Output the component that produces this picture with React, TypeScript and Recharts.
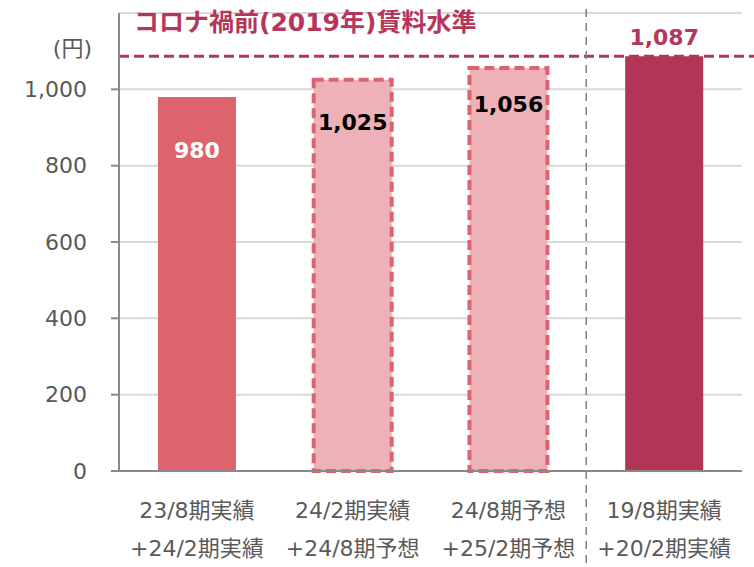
import React from "react";
import {
  BarChart,
  Bar,
  Cell,
  XAxis,
  YAxis,
  CartesianGrid,
  ReferenceLine,
  LabelList,
} from "recharts";

// Data
const CATEGORIES = [
  ["23/8期実績", "+24/2期実績"],
  ["24/2期実績", "+24/8期予想"],
  ["24/8期予想", "+25/2期予想"],
  ["19/8期実績", "+20/2期実績"],
];
const RENT = [980, 1025, 1056, 1087];
const PRE_COVID_LEVEL = 1087;
const Y_TICKS = [0, 200, 400, 600, 800, 1000];
const TITLE = "コロナ禍前(2019年)賃料水準";
const UNIT = "(円)";

const data = CATEGORIES.map((lines, i) => ({
  name: lines.join("\n"),
  rent: RENT[i],
}));

// Styling
const FONT = "'DejaVu Sans', 'Noto Sans CJK JP', sans-serif";
const AXIS_GRAY = "#898989";
const TEXT_GRAY = "#595959";
const ACCENT = "#b5365a";
const BAR_FILLS = ["#dd646e", "#eeb1b7", "#eeb1b7", "#b23557"];
const BAR_DASHED = [false, true, true, false];
const LABEL_COLORS = ["#ffffff", "#000000", "#000000", ACCENT];
// distance of the label centre from the bar top (negative = above)
const LABEL_OFFSETS = [53, 42, 36, -19];

const formatNum = (v: number) => v.toLocaleString("en-US");

const XTick = ({ x, y, payload }: any) => {
  const lines = String(payload.value).split("\n");
  return (
    <text x={x} y={y} textAnchor="middle" fill={TEXT_GRAY} fontSize={22} fontFamily={FONT}>
      {lines.map((l, i) => (
        <tspan key={i} x={x} dy={i === 0 ? 39 : 38}>
          {l}
        </tspan>
      ))}
    </text>
  );
};

const BarValue = ({ x, y, width, value, index }: any) => (
  <text
    x={x + width / 2}
    y={y + LABEL_OFFSETS[index]}
    dy="0.36em"
    textAnchor="middle"
    fill={LABEL_COLORS[index]}
    fontSize={22}
    fontWeight="bold"
    fontFamily={FONT}
  >
    {formatNum(value)}
  </text>
);

const TitleLabel = ({ viewBox }: any) => (
  <text
    x={viewBox.x + 15}
    y={viewBox.y - 34}
    dy="0.36em"
    fill={ACCENT}
    fontSize={25}
    fontWeight="bold"
    fontFamily={FONT}
  >
    {TITLE}
  </text>
);

const UnitLabel = ({ viewBox }: any) => (
  <text
    x={viewBox.x + viewBox.width - 27}
    y={viewBox.y + 35}
    dy="0.36em"
    textAnchor="end"
    fill={TEXT_GRAY}
    fontSize={22}
    fontFamily={FONT}
  >
    {UNIT}
  </text>
);

// the level line runs on past the plot to the page edge
const LevelLine = (p: any) => (
  <line
    x1={p.x1}
    y1={p.y1}
    x2={Math.max(p.x1, p.x2) + 14}
    y2={p.y2}
    stroke={ACCENT}
    strokeWidth={3}
    strokeDasharray="10 5"
  />
);

// separator between forecasts and the pre-covid period, full height
const Separator = (p: any) => (
  <line
    x1={p.x1}
    x2={p.x2}
    y1={Math.min(p.y1, p.y2) - 4}
    y2={Math.max(p.y1, p.y2) + 96}
    stroke="#7f7f7f"
    strokeWidth={1.5}
    strokeDasharray="8 6"
  />
);

export default function App() {
  return (
    <div style={{ position: "absolute", left: 0, top: 0 }}>
      <BarChart
        width={754}
        height={567}
        data={data}
        margin={{ top: 13, right: 12, bottom: 0, left: 0 }}
        barCategoryGap="25%"
      >
        <CartesianGrid vertical={false} stroke="#d9d9d9" strokeWidth={2} />
        <XAxis
          dataKey="name"
          height={96}
          tick={<XTick />}
          tickLine={false}
          axisLine={{ stroke: AXIS_GRAY, strokeWidth: 2 }}
          interval={0}
        />
        <YAxis
          width={119}
          domain={[0, 1200]}
          ticks={Y_TICKS}
          interval={0}
          tickFormatter={formatNum}
          tickSize={8}
          tickMargin={24}
          tick={{ fill: TEXT_GRAY, fontSize: 22, fontFamily: FONT }}
          tickLine={{ stroke: AXIS_GRAY, strokeWidth: 2 }}
          axisLine={{ stroke: AXIS_GRAY, strokeWidth: 2 }}
          label={{ content: <UnitLabel /> }}
        />
        <Bar dataKey="rent" isAnimationActive={false}>
          {data.map((d, i) => (
            <Cell
              key={d.name}
              fill={BAR_FILLS[i]}
              stroke={BAR_DASHED[i] ? "#dd646e" : "none"}
              strokeWidth={BAR_DASHED[i] ? 4 : 0}
              strokeDasharray={BAR_DASHED[i] ? "10 5" : undefined}
            />
          ))}
          <LabelList dataKey="rent" content={<BarValue />} />
        </Bar>
        <ReferenceLine
          y={PRE_COVID_LEVEL}
          shape={<LevelLine />}
          label={{ content: <TitleLabel /> }}
        />
        <ReferenceLine x={data[3].name} position="start" shape={<Separator />} />
      </BarChart>
    </div>
  );
}
